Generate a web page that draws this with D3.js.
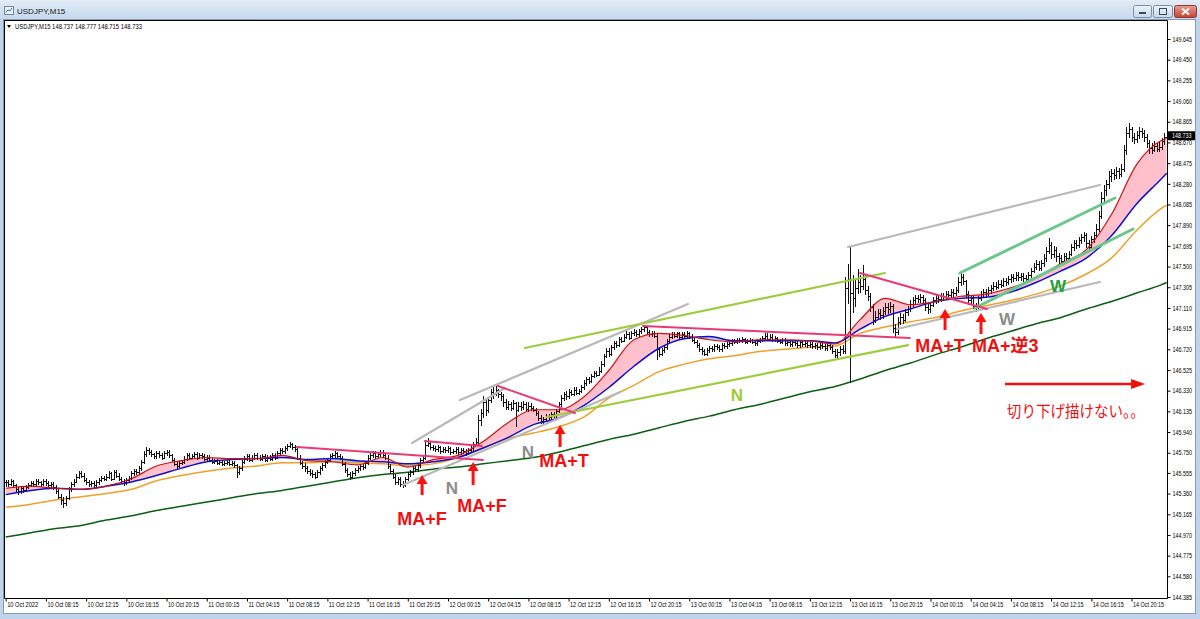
<!DOCTYPE html>
<html><head><meta charset="utf-8">
<script src="https://cdn.jsdelivr.net/npm/d3@7"></script>
<style>html,body{margin:0;padding:0;background:#fff;overflow:hidden}</style>
</head><body><svg id="c" width="1200" height="619"></svg>
<script>
// ---------------- DATA ----------------
const symbolTitle = "USDJPY,M15";
const headerText = "USDJPY,M15  148.737 148.777 148.715 148.733";
const lastPrice = 148.733;
const lastPriceLabel = "148.733";

const timeLabels = ["10 Oct 2022","10 Oct 08:15","10 Oct 12:15","10 Oct 16:15","10 Oct 20:15",
 "11 Oct 00:15","11 Oct 04:15","11 Oct 08:15","11 Oct 12:15","11 Oct 16:15","11 Oct 20:15",
 "12 Oct 00:15","12 Oct 04:15","12 Oct 08:15","12 Oct 12:15","12 Oct 16:15","12 Oct 20:15",
 "13 Oct 00:15","13 Oct 04:15","13 Oct 08:15","13 Oct 12:15","13 Oct 16:15","13 Oct 20:15",
 "14 Oct 00:15","14 Oct 04:15","14 Oct 08:15","14 Oct 12:15","14 Oct 16:15","14 Oct 20:15"];
const timeLabelBars = [0,16,32,48,64,80,96,112,128,144,160,176,192,208,224,240,256,272,288,304,320,336,352,368,384,400,416,432,448];

const priceTicks = [149.645,149.450,149.255,149.060,148.865,148.670,148.475,148.280,148.085,147.890,147.695,147.500,147.305,147.110,146.915,146.720,146.525,146.330,146.135,145.940,145.745,145.555,145.360,145.165,144.970,144.775,144.580,144.385];
const priceTickLabels = ["149.645","149.450","149.255","149.060","148.865","148.670","148.475","148.280","148.085","147.890","147.695","147.500","147.305","147.110","146.915","146.720","146.525","146.330","146.135","145.940","145.750","145.555","145.360","145.165","144.970","144.775","144.580","144.385"];

const barClose = [
145.47,145.45,145.48,145.44,145.40,145.38,145.41,145.39,145.42,145.44,
145.46,145.45,145.48,145.47,145.45,145.48,145.46,145.44,145.45,145.42,
145.38,145.33,145.30,145.27,145.32,145.40,145.45,145.47,145.52,145.55,
145.53,145.49,145.47,145.45,145.46,145.44,145.47,145.49,145.51,145.50,
145.52,145.55,145.50,145.56,145.53,145.50,145.48,145.47,145.49,145.51,
145.55,145.57,145.56,145.60,145.66,145.73,145.77,145.75,145.73,145.71,
145.74,145.72,145.70,145.74,145.75,145.72,145.68,145.64,145.62,145.65,
145.66,145.69,145.72,145.70,145.71,145.73,145.70,145.72,145.71,145.69,
145.70,145.68,145.66,145.67,145.65,145.66,145.64,145.65,145.66,145.64,
145.65,145.63,145.56,145.60,145.66,145.69,145.71,145.68,145.70,145.72,
145.70,145.69,145.71,145.68,145.70,145.69,145.72,145.70,145.74,145.77,
145.76,145.79,145.81,145.83,145.80,145.78,145.70,145.65,145.62,145.60,
145.57,145.55,145.54,145.52,145.56,145.60,145.63,145.66,145.68,145.71,
145.72,145.74,145.71,145.70,145.64,145.58,145.54,145.52,145.55,145.58,
145.60,145.62,145.61,145.65,145.70,145.72,145.74,145.71,145.73,145.75,
145.72,145.70,145.62,145.57,145.52,145.47,145.50,145.45,145.44,145.50,
145.54,145.56,145.60,145.59,145.63,145.68,145.70,145.82,145.84,145.80,
145.79,145.78,145.80,145.76,145.78,145.77,145.79,145.75,145.76,145.78,
145.75,145.77,145.76,145.74,145.77,145.79,145.83,145.85,146.05,146.12,
146.22,146.15,146.24,146.32,146.30,146.34,146.30,146.28,146.22,146.18,
146.20,146.17,146.21,146.15,146.19,146.18,146.20,146.16,146.19,146.17,
146.15,146.12,146.07,146.04,146.06,146.09,146.08,146.11,146.10,146.14,
146.20,146.26,146.30,146.28,146.32,146.30,146.34,146.31,146.33,146.36,
146.40,146.44,146.42,146.47,146.50,146.48,146.52,146.58,146.66,146.70,
146.68,146.74,146.78,146.76,146.82,146.80,146.84,146.86,146.83,146.87,
146.88,146.86,146.89,146.91,146.93,146.88,146.86,146.87,146.85,146.72,
146.68,146.71,146.74,146.80,146.84,146.86,146.85,146.87,146.84,146.86,
146.85,146.87,146.84,146.81,146.79,146.76,146.72,146.70,146.68,146.71,
146.73,146.72,146.75,146.74,146.72,146.76,146.75,146.77,146.78,146.80,
146.79,146.81,146.80,146.82,146.79,146.80,146.81,146.79,146.78,146.80,
146.81,146.83,146.85,146.82,146.84,146.81,146.83,146.80,146.79,146.81,
146.78,146.79,146.77,146.79,146.78,146.76,146.79,146.77,146.78,146.76,
146.77,146.75,146.76,146.74,146.76,146.75,146.73,146.76,146.74,146.70,
146.67,146.69,146.72,146.70,147.30,147.38,147.25,147.20,147.30,147.35,
147.32,147.38,147.28,147.22,147.12,147.00,147.02,147.06,147.04,147.08,
147.12,147.10,147.13,146.92,146.88,146.98,147.02,147.00,147.07,147.10,
147.15,147.18,147.20,147.19,147.21,147.18,147.12,147.10,147.14,147.18,
147.20,147.19,147.22,147.21,147.24,147.23,147.26,147.25,147.28,147.35,
147.40,147.36,147.24,147.18,147.20,147.13,147.12,147.20,147.24,147.26,
147.25,147.28,147.30,147.32,147.31,147.34,147.33,147.36,147.35,147.38,
147.40,147.39,147.42,147.40,147.41,147.39,147.38,147.42,147.46,147.50,
147.52,147.49,147.53,147.58,147.65,147.70,147.62,147.66,147.60,147.58,
147.55,147.60,147.58,147.62,147.68,147.72,147.70,147.75,147.78,147.80,
147.72,147.68,147.76,147.80,147.85,147.98,148.15,148.22,148.28,148.35,
148.38,148.36,148.40,148.37,148.42,148.60,148.76,148.80,148.72,148.70,
148.74,148.78,148.76,148.72,148.66,148.62,148.60,148.64,148.61,148.63,
148.68,148.72,148.733];

const barHigh = [
145.49,145.49,145.50,145.49,145.45,145.42,145.43,145.43,145.44,145.46,
145.48,145.48,145.50,145.50,145.48,145.50,145.50,145.48,145.47,145.47,
145.44,145.40,145.36,145.33,145.34,145.42,145.47,145.50,145.54,145.57,
145.57,145.55,145.51,145.49,145.48,145.48,145.49,145.51,145.53,145.53,
145.54,145.57,145.56,145.58,145.58,145.55,145.52,145.50,145.51,145.53,
145.57,145.59,145.59,145.62,145.68,145.76,145.80,145.79,145.77,145.74,
145.76,145.76,145.74,145.76,145.77,145.77,145.73,145.70,145.66,145.67,
145.68,145.71,145.74,145.74,145.73,145.75,145.75,145.74,145.74,145.73,
145.72,145.72,145.70,145.69,145.69,145.68,145.68,145.67,145.68,145.68,
145.67,145.67,145.64,145.62,145.68,145.71,145.73,145.73,145.72,145.74,
145.74,145.72,145.73,145.73,145.72,145.72,145.74,145.74,145.76,145.79,
145.79,145.81,145.83,145.85,145.84,145.82,145.79,145.72,145.67,145.65,
145.62,145.59,145.58,145.56,145.58,145.62,145.65,145.68,145.70,145.73,
145.74,145.76,145.75,145.73,145.71,145.66,145.60,145.56,145.57,145.60,
145.62,145.64,145.64,145.67,145.72,145.74,145.76,145.76,145.75,145.77,
145.77,145.74,145.72,145.64,145.59,145.54,145.52,145.52,145.48,145.52,
145.56,145.58,145.62,145.62,145.65,145.70,145.72,145.86,145.88,145.85,
145.82,145.81,145.82,145.81,145.80,145.80,145.81,145.80,145.78,145.80,
145.80,145.79,145.79,145.78,145.79,145.81,145.85,145.88,146.10,146.16,
146.28,146.25,146.27,146.35,146.36,146.37,146.35,146.32,146.30,146.25,
146.23,146.22,146.24,146.22,146.22,146.22,146.23,146.22,146.22,146.21,
146.19,146.17,146.14,146.10,146.08,146.11,146.11,146.13,146.13,146.16,
146.22,146.29,146.32,146.33,146.35,146.34,146.36,146.36,146.35,146.38,
146.43,146.46,146.46,146.49,146.52,146.52,146.55,146.61,146.68,146.73,
146.73,146.76,146.80,146.80,146.84,146.84,146.86,146.89,146.88,146.89,
146.91,146.90,146.91,146.93,146.95,146.94,146.90,146.89,146.89,146.86,
146.74,146.73,146.76,146.82,146.86,146.88,146.88,146.88,146.88,146.88,
146.88,146.89,146.88,146.86,146.83,146.81,146.78,146.74,146.72,146.73,
146.75,146.75,146.77,146.77,146.76,146.78,146.78,146.79,146.80,146.82,
146.82,146.83,146.83,146.84,146.83,146.82,146.83,146.82,146.81,146.82,
146.83,146.85,146.87,146.87,146.86,146.86,146.85,146.84,146.82,146.83,
146.83,146.81,146.81,146.81,146.81,146.80,146.81,146.81,146.80,146.80,
146.79,146.79,146.78,146.78,146.78,146.78,146.77,146.78,146.78,146.76,
146.72,146.72,146.75,146.76,147.40,147.52,147.68,147.42,147.38,147.48,
147.42,147.51,147.42,147.32,147.25,147.15,147.08,147.10,147.10,147.12,
147.16,147.16,147.17,147.15,146.96,147.02,147.06,147.05,147.10,147.13,
147.18,147.21,147.23,147.23,147.24,147.23,147.20,147.15,147.17,147.21,
147.23,147.23,147.25,147.25,147.27,147.27,147.29,147.29,147.31,147.40,
147.45,147.43,147.37,147.27,147.23,147.22,147.16,147.22,147.27,147.29,
147.29,147.31,147.33,147.35,147.35,147.37,147.37,147.39,147.39,147.41,
147.43,147.43,147.45,147.45,147.44,147.44,147.42,147.45,147.49,147.53,
147.56,147.55,147.56,147.62,147.68,147.77,147.73,147.69,147.68,147.63,
147.61,147.63,147.63,147.65,147.71,147.75,147.75,147.78,147.81,147.83,
147.82,147.75,147.79,147.83,147.90,148.02,148.20,148.27,148.32,148.40,
148.42,148.42,148.44,148.43,148.47,148.65,148.82,148.85,148.82,148.76,
148.78,148.82,148.81,148.79,148.75,148.69,148.66,148.68,148.66,148.67,
148.71,148.76,148.777];

const barLow = [
145.43,145.43,145.44,145.42,145.38,145.35,145.36,145.37,145.38,145.41,
145.43,145.43,145.44,145.45,145.43,145.44,145.44,145.42,145.42,145.40,
145.36,145.31,145.26,145.23,145.25,145.30,145.38,145.43,145.46,145.50,
145.51,145.47,145.45,145.43,145.43,145.42,145.42,145.45,145.47,145.48,
145.48,145.50,145.48,145.49,145.51,145.48,145.46,145.44,145.45,145.47,
145.49,145.53,145.54,145.55,145.58,145.64,145.71,145.73,145.71,145.69,
145.69,145.70,145.68,145.69,145.72,145.70,145.66,145.62,145.60,145.61,
145.63,145.64,145.67,145.68,145.69,145.69,145.68,145.69,145.69,145.67,
145.67,145.66,145.64,145.64,145.63,145.63,145.62,145.62,145.63,145.62,
145.62,145.61,145.51,145.54,145.58,145.64,145.67,145.66,145.66,145.68,
145.68,145.67,145.67,145.66,145.66,145.67,145.67,145.68,145.69,145.72,
145.74,145.74,145.77,145.79,145.78,145.76,145.68,145.63,145.60,145.57,
145.55,145.53,145.51,145.50,145.51,145.54,145.58,145.61,145.64,145.66,
145.69,145.70,145.69,145.68,145.62,145.56,145.52,145.49,145.50,145.53,
145.56,145.58,145.59,145.60,145.63,145.68,145.70,145.69,145.70,145.71,
145.70,145.68,145.60,145.55,145.50,145.45,145.45,145.43,145.42,145.43,
145.48,145.52,145.54,145.57,145.57,145.61,145.66,145.68,145.80,145.78,
145.77,145.76,145.76,145.74,145.75,145.75,145.75,145.73,145.74,145.74,
145.73,145.73,145.74,145.72,145.73,145.75,145.77,145.81,145.83,146.00,
146.08,146.10,146.12,146.22,146.26,146.28,146.27,146.24,146.18,146.15,
146.15,146.14,146.15,145.99,146.13,146.14,146.15,146.14,146.13,146.14,
146.13,146.10,146.05,146.02,146.02,146.04,146.06,146.06,146.08,146.08,
146.12,146.18,146.24,146.25,146.26,146.28,146.28,146.29,146.29,146.31,
146.34,146.38,146.40,146.41,146.45,146.46,146.47,146.50,146.56,146.64,
146.65,146.66,146.72,146.74,146.75,146.78,146.79,146.82,146.81,146.82,
146.85,146.84,146.84,146.87,146.89,146.86,146.84,146.84,146.83,146.62,
146.65,146.66,146.69,146.72,146.78,146.82,146.83,146.83,146.82,146.82,
146.83,146.83,146.82,146.79,146.77,146.74,146.70,146.67,146.66,146.66,
146.69,146.70,146.70,146.72,146.70,146.70,146.73,146.73,146.75,146.76,
146.77,146.77,146.78,146.78,146.77,146.77,146.78,146.77,146.76,146.76,
146.78,146.79,146.81,146.80,146.80,146.79,146.79,146.78,146.77,146.77,
146.76,146.76,146.75,146.75,146.76,146.74,146.74,146.75,146.75,146.74,
146.74,146.73,146.73,146.72,146.72,146.73,146.71,146.71,146.72,146.68,
146.64,146.64,146.66,146.68,146.68,147.15,146.41,147.07,147.12,147.25,
147.26,147.28,147.24,147.18,147.08,146.95,146.97,147.00,147.00,147.01,
147.05,147.06,147.07,146.88,146.83,146.86,146.95,146.96,146.98,147.04,
147.08,147.12,147.15,147.16,147.16,147.15,147.09,147.06,147.07,147.12,
147.15,147.16,147.17,147.18,147.19,147.20,147.21,147.22,147.23,147.26,
147.32,147.33,147.21,147.14,147.15,147.10,147.08,147.10,147.18,147.21,
147.22,147.23,147.25,147.27,147.28,147.29,147.30,147.31,147.32,147.33,
147.35,147.36,147.37,147.37,147.37,147.36,147.35,147.36,147.40,147.44,
147.47,147.46,147.46,147.50,147.55,147.62,147.58,147.59,147.55,147.50,
147.52,147.52,147.55,147.56,147.60,147.65,147.67,147.68,147.72,147.74,
147.68,147.64,147.66,147.73,147.77,147.83,147.95,148.10,148.17,148.24,
148.30,148.32,148.33,148.33,148.35,148.40,148.56,148.72,148.68,148.66,
148.67,148.71,148.72,148.68,148.62,148.57,148.57,148.58,148.58,148.58,
148.60,148.65,148.715];

// moving averages, read at these bar positions
const maBars = [0,10,20,30,40,50,60,70,80,90,100,110,120,130,140,150,160,170,180,190,200,210,220,230,240,250,260,270,280,290,300,310,320,330,340,350,360,370,380,390,400,410,420,430,440,450,460,462];
const maRed = [145.41,145.43,145.41,145.40,145.43,145.50,145.62,145.67,145.70,145.69,145.69,145.72,145.67,145.66,145.63,145.70,145.61,145.68,145.72,145.85,146.03,146.15,146.15,146.27,146.52,146.81,146.87,146.85,146.81,146.79,146.81,146.81,146.80,146.77,147.00,147.20,147.14,147.17,147.22,147.24,147.30,147.39,147.53,147.66,147.99,148.46,148.69,148.71];
const maBlue = [145.35,145.39,145.41,145.40,145.43,145.47,145.53,145.60,145.66,145.68,145.69,145.70,145.68,145.69,145.67,145.66,145.64,145.66,145.70,145.79,145.89,146.01,146.07,146.19,146.36,146.56,146.73,146.82,146.84,146.80,146.80,146.80,146.80,146.78,146.91,147.03,147.10,147.17,147.20,147.21,147.26,147.35,147.46,147.58,147.79,148.09,148.33,148.38];
const maOrange = [145.23,145.26,145.30,145.33,145.36,145.40,145.48,145.53,145.57,145.60,145.62,145.65,145.65,145.66,145.65,145.64,145.62,145.64,145.70,145.79,145.88,145.93,145.99,146.08,146.26,146.38,146.51,146.58,146.63,146.66,146.70,146.72,146.74,146.75,146.87,146.93,146.98,147.02,147.08,147.13,147.18,147.24,147.32,147.43,147.58,147.84,148.05,148.08];
const maGreen = [144.95,144.99,145.03,145.06,145.11,145.15,145.20,145.24,145.28,145.32,145.36,145.39,145.43,145.47,145.51,145.54,145.56,145.59,145.61,145.64,145.67,145.70,145.75,145.81,145.87,145.92,145.98,146.04,146.09,146.15,146.20,146.26,146.32,146.37,146.44,146.52,146.59,146.67,146.74,146.82,146.89,146.96,147.02,147.10,147.17,147.25,147.33,147.35];

// hand-drawn annotations, in (bar, price) coordinates
const pinkLines  = [[115.9,145.799,189.9,145.676],[166.8,145.855,189.5,145.808],[195.9,146.374,226.5,146.119],[253.6,146.939,359.8,146.826],[340.0,147.439,390.5,147.100]];
const greyLines  = [[161.7,145.837,198.7,146.355],[180.8,146.242,271.5,147.147],[158.1,145.440,244.5,146.317],[335.2,147.684,435.4,148.269],[354.7,146.911,435.4,147.354]];
const limeLines  = [[206.6,146.732,349.9,147.439],[215.4,146.082,359.1,146.760]];
const mintLines  = [[379.7,147.439,441.4,148.146],[385.7,147.109,448.6,147.854]];
const upArrows   = [[165.7,145.535,145.346],[186.0,145.657,145.440],[220.6,146.006,145.799],[373.8,147.100,146.902],[388.1,147.062,146.864]];
const redLabels  = [["MA+F",165.7,145.063],["MA+F",189.5,145.186],["MA+T",222.2,145.610],["MA+T",371.8,146.694],["MA+逆3",397.8,146.694]];
const letterMarks = [["N",177.6,145.356,"#8c8c8c"],["N",207.8,145.695,"#8c8c8c"],["N",291.0,146.232,"#99cc33"],["W",398.5,146.949,"#8c8c8c"],["W",418.8,147.260,"#22a045"]];
const noteArrow = [397.6,453.4,146.393];
const noteText = ["切り下げ描けない。。",398.4,146.082];

// ---------------- DRAW ----------------
const W = 1200, H = 619;
const svg = d3.select("#c");
const defs = svg.append("defs");
const N = barClose.length;

const x = d3.scaleLinear().domain([0, 462]).range([5.7, 1166.7]);
const y = d3.scaleLinear().domain([144.385, 149.645]).range([597, 39]);

const plot = {l: 4.5, t: 20.5, r: 1167.5, b: 598.5};

// window chrome
const tg = defs.append("linearGradient").attr("id","tbar").attr("x1",0).attr("y1",0).attr("x2",0).attr("y2",1);
tg.append("stop").attr("offset","0%").attr("stop-color","#e3ecf7");
tg.append("stop").attr("offset","100%").attr("stop-color","#c6d8ee");
svg.append("rect").attr("width",W).attr("height",H).attr("fill","#bfd3ea");
svg.append("rect").attr("width",W).attr("height",19).attr("fill","url(#tbar)");
svg.append("rect").attr("x",3.5).attr("y",19.5).attr("width",1192).attr("height",594).attr("fill","#fff").attr("stroke","#8a9bb0");
// title icon + text
const ic = svg.append("g");
ic.append("rect").attr("x",4.5).attr("y",6.5).attr("width",9).attr("height",8).attr("fill","#eef3f9").attr("stroke","#6f86a6");
ic.append("path").attr("d","M6,12 L8,10 L10,11 L12,8").attr("stroke","#3a6fb0").attr("fill","none");
svg.append("text").attr("x",17).attr("y",14).attr("font-family","Liberation Sans, Arial, sans-serif").attr("font-size",8).attr("fill","#1a1a1a").text(symbolTitle);
// window buttons
const bg = defs.append("linearGradient").attr("id","btn").attr("x1",0).attr("y1",0).attr("x2",0).attr("y2",1);
bg.append("stop").attr("offset","0%").attr("stop-color","#eef3fa");
bg.append("stop").attr("offset","100%").attr("stop-color","#c9d7ea");
const rg = defs.append("linearGradient").attr("id","cbtn").attr("x1",0).attr("y1",0).attr("x2",0).attr("y2",1);
rg.append("stop").attr("offset","0%").attr("stop-color","#e8a095");
rg.append("stop").attr("offset","100%").attr("stop-color","#c8412f");
svg.append("rect").attr("x",1133.5).attr("y",5.5).attr("width",18).attr("height",12).attr("rx",2).attr("fill","url(#btn)").attr("stroke","#7a8ea8");
svg.append("rect").attr("x",1139).attr("y",12).attr("width",7).attr("height",2).attr("fill","#3b4b60");
svg.append("rect").attr("x",1153.5).attr("y",5.5).attr("width",19).attr("height",12).attr("rx",2).attr("fill","url(#btn)").attr("stroke","#7a8ea8");
svg.append("rect").attr("x",1159.5).attr("y",8.5).attr("width",7).attr("height",6).attr("fill","none").attr("stroke","#3b4b60");
svg.append("rect").attr("x",1174.5).attr("y",5.5).attr("width",22).attr("height",12).attr("rx",2).attr("fill","url(#cbtn)").attr("stroke","#8a3a30");
svg.append("path").attr("d","M1182,8.5 L1189,14.5 M1189,8.5 L1182,14.5").attr("stroke","#fff").attr("stroke-width",1.8);

// header text
svg.append("path").attr("d","M7,25 L11,25 L9,28 Z").attr("fill","#000");
svg.append("text").attr("x",15).attr("y",29).attr("font-family","Liberation Sans, Arial, sans-serif").attr("font-size",7.2).attr("fill","#000")
  .attr("textLength",127).attr("lengthAdjust","spacingAndGlyphs").text(headerText);

// clip
defs.append("clipPath").attr("id","plotclip").append("rect").attr("x",plot.l+0.5).attr("y",plot.t+0.5).attr("width",plot.r-plot.l-1).attr("height",plot.b-plot.t-1);

const maPts = arr => maBars.map((b,k)=>[x(b), y(arr[k])]);
const lineGen = d3.line().curve(d3.curveMonotoneX);
const redPts = maPts(maRed), bluePts = maPts(maBlue);

// clip regions above / below blue MA
const blueLineD = lineGen(bluePts);
const aboveD = "M" + x(0) + "," + 0 + " L" + blueLineD.slice(1) + " L" + x(462) + ",0 Z";
const belowD = "M" + x(0) + "," + H + " L" + blueLineD.slice(1) + " L" + x(462) + "," + H + " Z";
defs.append("clipPath").attr("id","aboveBlue").append("path").attr("d",aboveD);
defs.append("clipPath").attr("id","belowBlue").append("path").attr("d",belowD);

const g = svg.append("g").attr("clip-path","url(#plotclip)");

// fill between red and blue
const bandD = lineGen(redPts) + " L" + lineGen(bluePts.slice().reverse()).slice(1) + " Z";
g.append("g").attr("clip-path","url(#aboveBlue)").append("path").attr("d",bandD).attr("fill","#ffc0cb");
g.append("g").attr("clip-path","url(#belowBlue)").append("path").attr("d",bandD).attr("fill","#b4c8ee");

// MAs
g.append("path").attr("d",lineGen(maPts(maGreen))).attr("fill","none").attr("stroke","#0b5e12").attr("stroke-width",1.5);
g.append("path").attr("d",lineGen(maPts(maOrange))).attr("fill","none").attr("stroke","#f0a028").attr("stroke-width",1.5);

// OHLC bars
const bars = g.append("g").attr("stroke","#111").attr("stroke-width",1).attr("shape-rendering","crispEdges");
d3.range(N).forEach(i => {
  const xx = Math.round(x(i)) + 0.5;
  const o = i > 0 ? barClose[i-1] : barClose[0];
  bars.append("line").attr("x1",xx).attr("x2",xx).attr("y1",y(barHigh[i])).attr("y2",y(barLow[i])+0.5);
  bars.append("line").attr("x1",xx-1.5).attr("x2",xx).attr("y1",Math.round(y(o))+0.5).attr("y2",Math.round(y(o))+0.5);
  bars.append("line").attr("x1",xx).attr("x2",xx+1.5).attr("y1",Math.round(y(barClose[i]))+0.5).attr("y2",Math.round(y(barClose[i]))+0.5);
});

g.append("path").attr("d",lineGen(bluePts)).attr("fill","none").attr("stroke","#1010c8").attr("stroke-width",1.5);
g.append("path").attr("d",lineGen(redPts)).attr("fill","none").attr("stroke","#cc1111").attr("stroke-width",1.2);

// annotations
const ann = g.append("g");
function drawLines(list, color, w){
  list.forEach(d => ann.append("line").attr("x1",x(d[0])).attr("y1",y(d[1])).attr("x2",x(d[2])).attr("y2",y(d[3]))
    .attr("stroke",color).attr("stroke-width",w).attr("stroke-linecap","round"));
}
drawLines(greyLines, "#b9b9b9", 2.2);
drawLines(limeLines, "#9ccd3c", 2.2);
drawLines(mintLines, "#6cc88a", 3);
drawLines(pinkLines, "#ea3a76", 2);

upArrows.forEach(d => {
  const xx = x(d[0]), yt = y(d[1]), yb = y(d[2]);
  ann.append("line").attr("x1",xx).attr("x2",xx).attr("y1",yb).attr("y2",yt+6).attr("stroke","#ff1010").attr("stroke-width",3);
  ann.append("path").attr("d",`M${xx-5.5},${yt+9} L${xx},${yt} L${xx+5.5},${yt+9} Z`).attr("fill","#ff1010");
});

redLabels.forEach(d => ann.append("text").attr("x",x(d[1])).attr("y",y(d[2])).attr("text-anchor","middle")
  .attr("font-family","Liberation Sans, 'Noto Sans CJK JP', Arial, sans-serif").attr("font-weight","bold").attr("font-size",18)
  .attr("fill","#f01010").text(d[0]));

letterMarks.forEach(d => ann.append("text").attr("x",x(d[1])).attr("y",y(d[2])).attr("text-anchor","middle")
  .attr("font-family","Liberation Sans, Arial, sans-serif").attr("font-weight","bold").attr("font-size",17)
  .attr("fill",d[3]).text(d[0]));

// note arrow + text
{
  const x1 = x(noteArrow[0]), x2 = x(noteArrow[1]), yy = y(noteArrow[2]);
  ann.append("line").attr("x1",x1).attr("x2",x2-12).attr("y1",yy).attr("y2",yy).attr("stroke","#f01010").attr("stroke-width",2.5);
  ann.append("path").attr("d",`M${x2-14},${yy-5} L${x2},${yy} L${x2-14},${yy+5} Z`).attr("fill","#f01010");
  ann.append("text").attr("x",x(noteText[1])).attr("y",y(noteText[2])).attr("font-family","'Noto Sans CJK JP', sans-serif")
    .attr("font-size",15.5).attr("fill","#f01010").attr("textLength",138).attr("lengthAdjust","spacingAndGlyphs").text(noteText[0]);
}

// plot border
svg.append("path").attr("d",`M${plot.l},${plot.t} H${plot.r} V${plot.b} H${plot.l} Z`).attr("fill","none").attr("stroke","#000").attr("stroke-width",1);

// axes
const yAxis = d3.axisRight(y).tickValues(priceTicks).tickFormat((d,k)=>priceTickLabels[k]).tickSize(3).tickSizeOuter(0).tickPadding(2);
const ya = svg.append("g").attr("transform",`translate(${plot.r},0)`).call(yAxis);
ya.select(".domain").remove();
ya.selectAll("text").attr("font-family","Liberation Sans, Arial, sans-serif").attr("font-size",7).attr("fill","#000")
  .attr("textLength",19.5).attr("lengthAdjust","spacingAndGlyphs");
ya.selectAll("line").attr("stroke","#000");

const xAxis = d3.axisBottom(x).tickValues(timeLabelBars).tickFormat((d,k)=>timeLabels[k]).tickSize(3).tickSizeOuter(0);
const xa = svg.append("g").attr("transform",`translate(0,${plot.b})`).call(xAxis);
xa.select(".domain").remove();
xa.selectAll("line").attr("stroke","#000");
xa.selectAll("text").attr("text-anchor","start").attr("x",1).attr("y",4).attr("dy","0.71em")
  .attr("font-family","Liberation Sans, Arial, sans-serif").attr("font-size",7).attr("fill","#000")
  .attr("textLength",31).attr("lengthAdjust","spacingAndGlyphs");

// last price label
{
  const yy = y(lastPrice);
  svg.append("rect").attr("x",plot.r+0.5).attr("y",yy-4.5).attr("width",27).attr("height",9).attr("fill","#000");
  svg.append("text").attr("x",plot.r+4.5).attr("y",yy+2.6).attr("font-family","Liberation Sans, Arial, sans-serif")
    .attr("font-size",7).attr("fill","#fff").attr("textLength",19.5).attr("lengthAdjust","spacingAndGlyphs").text(lastPriceLabel);
}
</script></body></html>
